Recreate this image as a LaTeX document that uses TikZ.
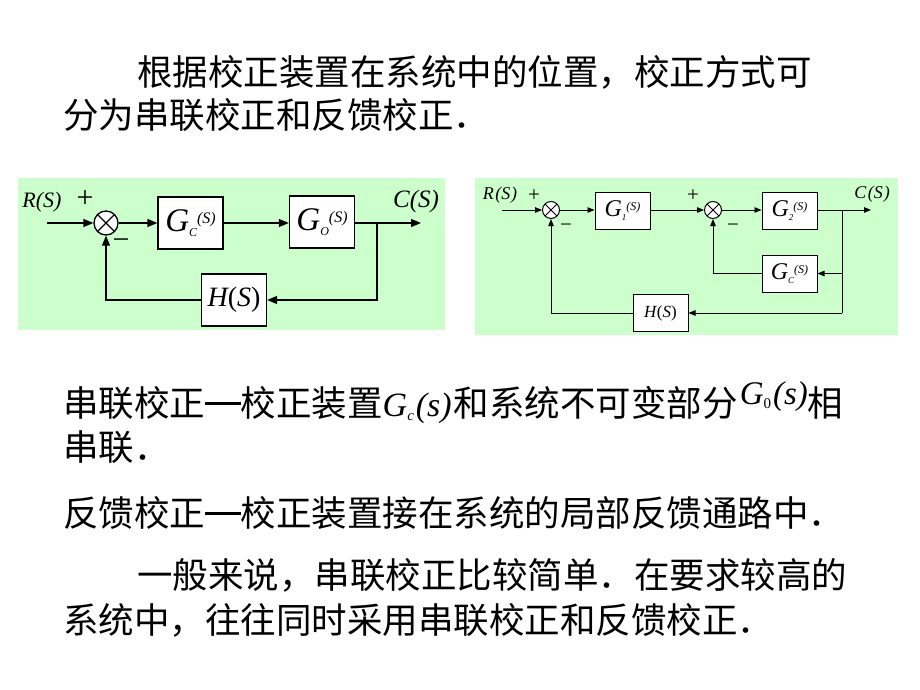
\documentclass[tikz,border=0pt]{standalone}
\usepackage{fontspec}
\setmainfont{Liberation Serif}
\newfontfamily\tms{Liberation Serif}
\newfontfamily\cjk{Noto Sans CJK SC}
\usetikzlibrary{arrows.meta}
\definecolor{bggreen}{HTML}{CCFFCC}
\newcommand\fs[1]{\fontsize{#1}{#1}\selectfont}
\newcommand\blkA[1]{{\tms\itshape\fs{33}G}{\tms\itshape\fs{12}\raisebox{-5pt}{#1}}{\tms\itshape\fs{16}\raisebox{8pt}{(S)}}}
\newcommand\blkB[1]{{\tms\itshape\fs{24}G}{\tms\itshape\fs{9}\raisebox{-4pt}{#1}}{\tms\itshape\fs{12}\raisebox{6pt}{(S)}}}
\newcommand\cdash{\rule[0.33em]{1em}{2.6pt}}
\tikzset{
  bg/.style={fill=bggreen,draw=none},
  blkone/.style={draw,fill=white,line width=1.3pt,inner sep=0pt,minimum width=65pt,minimum height=52pt},
  blktwo/.style={draw,fill=white,line width=1pt,inner sep=0pt,minimum width=55pt,minimum height=37pt},
  sumone/.style={circle,draw,fill=white,line width=1.3pt,minimum size=24pt,inner sep=0pt,
    path picture={\draw[line width=1.3pt] (path picture bounding box.north west)--(path picture bounding box.south east)
      (path picture bounding box.south west)--(path picture bounding box.north east);}},
  sumtwo/.style={circle,draw,fill=white,line width=1pt,minimum size=17pt,inner sep=0pt,
    path picture={\draw[line width=1pt] (path picture bounding box.north west)--(path picture bounding box.south east)
      (path picture bounding box.south west)--(path picture bounding box.north east);}},
  wireone/.style={line width=1.3pt},
  wiretwo/.style={line width=0.9pt},
  arrone/.style={-{Triangle[length=10pt,width=8pt]}},
  arrtwo/.style={-{Triangle[length=7pt,width=5.5pt]}},
  lblone/.style={font=\tms\itshape\fs{22},inner sep=0pt},
  lbltwo/.style={font=\tms\itshape\fs{18},inner sep=0pt},
  sgnone/.style={font=\tms\fs{30},inner sep=0pt},
  sgntwo/.style={font=\tms\fs{21},inner sep=0pt},
  body/.style={font=\cjk\fs{35.5},anchor=base west,inner sep=0pt}
}
\begin{document}
\begin{tikzpicture}[x=1pt,y=-1pt]
\path[fill=white] (0,0) rectangle (920,690);
\useasboundingbox (0,0) rectangle (920,690);

% ---- text ----
\node[body] (t1) at (137,85.5) {根据校正装置在系统中的位置，校正方式可};
\node[body] (t2) at (63,128.5) {分为串联校正和反馈校正．};
\node[body] (t3) at (63,416.5) {串联校正\cdash 校正装置{\tms\itshape\fs{34}G\raisebox{-4pt}{\fs{15}c}\kern2pt(s)}\kern2pt和系统不可变部分\kern2pt\raisebox{12pt}{\tms\itshape\fs{33}G\raisebox{-4pt}{\upshape\fs{15}0}\kern2pt(s)}相};
\node[body] (t4) at (63,460.5) {串联．};
\node[body] (t5) at (63,526.5) {反馈校正\cdash 校正装置接在系统的局部反馈通路中．};
\node[body] (t6) at (137,588.5) {一般来说，串联校正比较简单．在要求较高的};
\node[body] (t7) at (63,633.5) {系统中，往往同时采用串联校正和反馈校正．};

% ---- diagram 1 ----
\path[bg] (18,178) rectangle (445,330);
\coordinate (in1) at (47,223);
\node[sumone] (s1) at (106,223) {};
\node[blkone] (gc) at (190.5,223) {\blkA{C}};
\node[blkone] (go) at (322,222) {\blkA{O}};
\node[blkone] (h1) at (234,300) {{\tms\itshape\fs{28}H}{\tms\fs{28}(}{\tms\itshape\fs{28}S}{\tms\fs{28})}};
\coordinate (out1) at (421,223);
\coordinate (br1) at (377,223);
\coordinate (br1b) at (377,300);
\coordinate (fb1) at (106,300);
\draw[wireone,arrone] (in1) -- (s1);
\draw[wireone,arrone] (s1) -- (gc);
\draw[wireone,arrone] (gc) -- (go.west |- gc);
\draw[wireone,arrone] (go.east |- br1) -- (out1);
\draw[wireone,arrone] (br1) -- (br1b) -- (h1);
\draw[wireone,arrone] (h1) -- (fb1) -- (s1);
\node[lblone] (r1) at (42,202) {R(S)};
\node[lblone,font=\tms\itshape\fs{25}] (c1) at (416,201) {C(S)};
\node[sgnone] (p1) at (85,199) {+};
\node[sgnone] (m1) at (121,244) {−};

% ---- diagram 2 ----
\path[bg] (475,178) rectangle (898,335);
\coordinate (in2) at (502,210);
\node[sumtwo] (s21) at (551,210) {};
\node[blktwo] (g1) at (622.5,210.5) {\blkB{1}};
\node[sumtwo] (s22) at (713,210) {};
\node[blktwo] (g2) at (789.5,210.5) {\blkB{2}};
\node[blktwo] (gc2) at (789.5,273.5) {\blkB{C}};
\node[blktwo] (h2) at (660.5,313) {{\tms\itshape\fs{17}H}{\tms\fs{17}\kern0.5pt(}{\tms\itshape\fs{17}S}{\tms\fs{17})}};
\coordinate (out2) at (871,210);
\coordinate (br2) at (842,210);
\coordinate (br2a) at (842,273.5);
\coordinate (br2b) at (842,313);
\coordinate (fb21) at (713,273.5);
\coordinate (fb22) at (551,313);
\draw[wiretwo,arrtwo] (in2) -- (s21);
\draw[wiretwo,arrtwo] (s21) -- (g1.west |- s21);
\draw[wiretwo,arrtwo] (g1.east |- s22) -- (s22);
\draw[wiretwo,arrtwo] (s22) -- (g2.west |- s22);
\draw[wiretwo,arrtwo] (g2.east |- br2) -- (out2);
\draw[wiretwo] (br2) -- (br2b);
\draw[wiretwo,arrtwo] (br2a) -- (gc2);
\draw[wiretwo,arrtwo] (br2b) -- (h2);
\draw[wiretwo,arrtwo] (gc2) -- (fb21) -- (s22);
\draw[wiretwo,arrtwo] (h2) -- (fb22) -- (s21);
\node[lbltwo] (r2) at (500,195) {R\kern1.5pt(S\kern1pt)};
\node[lbltwo] (c2) at (872,194) {C\kern1.5pt(S\kern1pt)};
\node[sgntwo] (p21) at (534,196) {+};
\node[sgntwo] (m21) at (566,228) {−};
\node[sgntwo] (p22) at (693,196) {+};
\node[sgntwo] (m22) at (733,228) {−};
\end{tikzpicture}
\end{document}
